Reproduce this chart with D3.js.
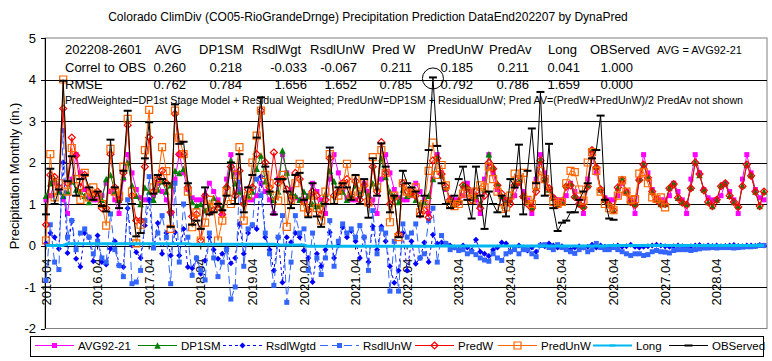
<!DOCTYPE html>
<html><head><meta charset="utf-8">
<script src="https://cdn.jsdelivr.net/npm/d3@7"></script>
<style>
html,body{margin:0;padding:0;background:#fff;}
svg{display:block;font-family:"Liberation Sans",Arial,sans-serif;}
</style></head><body>
<svg id="chart" width="772" height="361"></svg>
<script>
const title = "Colorado ClimDiv (CO05-RioGrandeDrnge) Precipitation Prediction DataEnd202207 by DynaPred";
const yLabel = "Precipitation Monthly (in.)";
const tickLabels = ["2015.04","2016.04","2017.04","2018.04","2019.04","2020.04","2021.04","2022.04","2023.04","2024.04","2025.04","2026.04","2027.04","2028.04"];
const yTicks = [5,4,3,2,1,0,-1,-2];
const gridValues = [4,3,2,1,-1];

const headerCols = ["202208-2601","AVG","DP1SM","RsdlWgt","RsdlUnW","Pred W","PredUnW","PredAv","Long","OBServed"];
const correl = ["Correl to OBS","0.260","0.218","-0.033","-0.067","0.211","0.185","0.211","0.041","1.000"];
const rmse = ["RMSE","0.762","0.784","1.656","1.652","0.785","0.792","0.786","1.659","0.000"];
const note = "PredWeighted=DP1st Stage Model + Residual Weighted; PredUnW=DP1SM + ResidualUnW; Pred AV=(PredW+PredUnW)/2 PredAv not shown";
const avgNote = "AVG = AVG92-21";

const avg = [
1.1,1.2,1.5,1.3,1.1,0.77,1.6,2.19,1.75,1.35,1.15,1.1,
1.1,1.2,1.5,1.3,1.1,0.77,1.6,2.19,1.75,1.35,1.15,1.1,
1.1,1.2,1.5,1.3,1.1,0.77,1.6,2.19,1.75,1.35,1.15,1.1,
1.1,1.2,1.5,1.3,1.1,0.77,1.6,2.19,1.75,1.35,1.15,1.1,
1.1,1.2,1.5,1.3,1.1,0.77,1.6,2.19,1.75,1.35,1.15,1.1,
1.1,1.2,1.5,1.3,1.1,0.77,1.6,2.19,1.75,1.35,1.15,1.1,
1.1,1.2,1.5,1.3,1.1,0.77,1.6,2.19,1.75,1.35,1.15,1.1,
1.1,1.2,1.5,1.3,1.1,0.77,1.6,2.19,1.75,1.35,1.15,1.1,
1.1,1.2,1.5,1.3,1.1,0.77,1.6,2.19,1.75,1.35,1.15,1.1,
1.1,1.2,1.5,1.3,1.1,0.77,1.6,2.19,1.75,1.35,1.15,1.1,
1.1,1.2,1.5,1.3,1.1,0.77,1.6,2.19,1.75,1.35,1.15,1.1,
1.1,1.2,1.5,1.3,1.1,0.77,1.6,2.19,1.75,1.35,1.15,1.1,
1.1,1.2,1.5,1.3,1.1,0.77,1.6,2.19,1.75,1.35,1.15,1.1,
1.1,1.2,1.5,1.3,1.1,0.77,1.6,2.19,1.75,1.35,1.15,1.1];

const dp1sm = [
1.2,1.5,1.6,1.3,1.2,1.3,1.55,1.35,1.3,1.2,1.05,1.15,
1.25,1.1,1.6,1.7,1.3,1.1,1.65,2.0,1.45,1.2,1.0,1.4,
1.3,1.1,1.35,1.55,1.3,1.45,1.8,1.75,1.85,1.5,1.05,0.95,
1.0,0.85,0.95,1.15,1.0,0.9,1.45,2.05,1.5,1.3,1.05,1.2,
1.3,1.85,2.17,1.55,1.3,1.1,1.3,2.29,1.76,1.25,1.2,1.1,
1.3,1.2,1.0,0.95,1.0,1.25,1.8,1.55,1.3,1.3,1.1,1.2,
1.45,1.25,1.35,1.2,1.5,1.4,2.1,1.65,1.3,1.2,1.05,1.35,
1.2,1.25,1.1,1.0,1.05,1.2,1.6,2.1,1.7,1.4,1.1,1.0,
1.1,1.45,1.4,1.15,1.2,1.0,1.35,2.2,1.9,1.5,1.2,1.05,
1.1,1.5,1.55,1.2,1.05,0.92,1.4,2.05,1.6,1.35,1.15,1.0,
1.05,1.45,1.5,1.2,1.0,0.95,1.45,2.3,1.9,1.35,1.1,1.0,
0.85,1.4,1.6,1.3,1.05,1.0,1.6,1.95,1.65,1.3,1.1,1.0,
1.0,1.4,1.5,1.15,1.05,1.0,1.4,2.0,1.7,1.35,1.05,0.95,
1.1,1.45,1.5,1.2,1.05,0.95,1.45,1.95,1.7,1.3,0.95,1.3];

const rsdlWgtd = [
0.05,0.3,0.2,-0.08,2.0,-0.18,0.6,-0.32,-0.51,0.3,0.2,-0.38,
0.24,-0.4,-0.46,-0.08,0.1,-0.48,-0.52,0.9,0.0,-0.16,-0.3,0.48,
1.1,-0.04,0.54,-0.2,0.3,-0.24,0.32,-0.24,0.4,-0.52,-0.55,-0.3,
-0.68,-0.36,0.2,-0.1,-0.32,-0.2,-0.08,-0.43,-0.3,0.52,-0.2,0.3,
0.48,0.4,1.66,0.2,-0.1,-0.6,0.2,-0.89,0.2,0.08,0.3,0.2,
-0.12,-0.3,-0.88,-0.2,-0.5,-0.1,0.32,-0.3,0.0,0.44,0.2,0.35,
0.1,-0.3,0.2,-0.4,0.46,-0.1,0.46,0.1,-0.5,-0.9,-0.6,0.3,
-0.6,0.1,-0.44,-0.3,0.07,-0.4,0.26,0.05,0.07,0.05,0.0,-0.05,
-0.1,0.0,-0.05,-0.12,0.14,-0.15,-0.2,-0.25,-0.1,-0.05,0.07,0.05,
-0.15,-0.05,0.0,-0.05,-0.12,-0.05,-0.15,0.02,-0.02,0.05,0.0,-0.05,
-0.02,-0.08,-0.1,-0.05,-0.02,-0.05,-0.03,0.02,-0.05,0.0,-0.03,-0.05,
-0.02,0.0,-0.03,-0.02,0.02,-0.03,-0.05,-0.03,-0.02,0.0,0.02,0.0,
-0.02,-0.03,-0.02,0.0,-0.02,-0.03,-0.02,0.0,0.01,-0.02,0.0,-0.01,
0.0,-0.02,-0.01,0.0,0.01,-0.01,-0.02,0.0,0.0,-0.01,0.01,0.0];

const rsdlUnW = [
-0.84,0.5,-0.4,-0.58,2.77,0.2,0.6,-0.1,0.3,0.4,0.2,-0.2,
0.1,-0.3,-0.4,0.76,-0.1,-0.48,-0.75,1.1,-0.92,-0.88,-0.6,0.6,
1.66,-0.06,0.3,0.72,0.2,-0.92,1.5,-0.4,1.0,0.2,-0.72,-0.3,
-0.6,-0.83,0.3,-0.3,-0.75,-0.4,-0.1,-1.29,-1.0,1.53,-0.5,0.4,
0.5,1.6,1.2,0.3,-0.2,-0.96,0.2,0.72,-1.37,-0.4,0.72,0.3,
0.4,-0.6,0.3,-0.3,-0.7,-0.3,0.6,-0.5,0.1,0.52,0.3,0.4,
0.2,0.48,0.2,-0.6,0.84,-0.2,0.4,0.3,-1.1,0.1,-1.1,0.52,
0.2,0.3,0.52,-0.3,-0.2,0.6,0.9,-0.4,0.24,0.05,-0.1,-0.05,
-0.12,-0.1,-0.2,-0.15,-0.22,-0.3,-0.35,-0.38,-0.2,-0.3,-0.36,-0.2,
-0.15,-0.1,-0.2,-0.1,-0.1,-0.2,-0.27,0.0,0.02,-0.05,-0.1,0.02,
-0.05,-0.1,-0.15,-0.19,-0.1,-0.05,-0.15,-0.1,0.05,-0.05,-0.1,-0.1,
-0.05,-0.1,-0.15,-0.2,-0.24,-0.2,-0.2,-0.24,-0.22,-0.15,-0.12,-0.15,
-0.16,-0.18,-0.12,-0.1,-0.1,-0.1,-0.12,-0.1,-0.08,-0.06,-0.06,-0.05,
-0.06,-0.05,-0.05,-0.05,-0.06,-0.05,-0.04,-0.03,-0.03,-0.02,0.0,0.0];

const predW = [
0.5,1.7,1.65,1.4,3.3,1.5,2.6,2.17,1.4,1.7,1.3,1.2,
1.3,0.9,0.9,2.2,1.4,1.1,1.75,2.9,1.2,0.6,0.6,1.9,
2.6,1.3,1.6,1.8,1.5,0.8,3.17,2.2,2.2,1.4,0.7,0.75,
0.12,1.2,0.8,0.85,1.0,0.75,1.4,1.9,1.2,1.8,1.0,1.35,
1.4,2.2,3.25,2.0,1.4,2.24,1.5,1.6,1.35,1.1,1.75,1.6,
1.05,0.85,1.3,1.2,0.75,1.1,2.1,1.2,1.3,1.5,1.6,1.2,
1.55,1.1,1.45,1.0,1.9,1.3,2.49,1.75,1.0,1.15,0.28,1.5,
1.3,1.3,1.2,0.75,0.85,0.68,2.05,2.1,1.72,1.42,1.1,1.0,
1.05,1.45,1.38,1.1,1.3,0.9,1.2,2.0,1.85,1.45,1.25,1.08,
1.0,1.45,1.55,1.18,1.0,0.9,1.3,2.05,1.6,1.38,1.15,0.98,
1.05,1.42,1.45,1.17,1.0,0.92,1.42,2.3,1.88,1.35,1.1,0.98,
0.85,1.4,1.58,1.28,1.05,0.98,1.58,1.95,1.63,1.3,1.1,1.0,
1.0,1.38,1.48,1.15,1.03,0.98,1.38,2.0,1.72,1.33,1.05,0.95,
1.1,1.43,1.5,1.2,1.05,0.93,1.43,1.95,1.68,1.3,0.95,1.3];

const predUnW = [
0.12,2.2,1.16,1.5,4.0,1.3,2.35,1.6,1.1,1.75,1.16,1.4,
1.2,1.0,0.48,2.33,1.3,1.2,1.9,3.05,1.3,0.05,0.5,2.3,
3.27,1.4,1.6,2.37,1.79,0.4,3.25,2.6,2.2,1.3,0.44,0.8,
0.12,0.55,1.1,0.9,0.12,0.6,1.3,1.0,1.7,2.37,0.6,1.2,
2.0,2.65,3.25,1.7,1.5,1.2,1.08,1.7,0.45,1.1,1.5,1.97,
0.92,0.8,1.2,0.9,0.6,1.3,2.2,1.1,1.2,1.45,1.97,1.2,
1.6,1.3,1.5,1.04,2.13,1.4,2.3,1.75,0.56,1.2,0.2,1.5,
1.3,1.25,1.4,0.8,1.0,1.8,2.48,1.7,1.94,1.45,1.0,0.95,
1.0,1.25,1.3,1.1,1.3,1.45,1.4,1.9,1.6,1.3,0.88,0.92,
1.2,1.73,1.6,1.75,1.1,1.0,1.45,1.8,1.6,1.3,1.05,1.0,
1.05,1.5,1.8,1.77,1.35,1.08,2.0,2.25,1.8,1.3,1.0,0.9,
0.85,1.2,1.57,1.3,1.1,1.12,1.73,1.77,1.5,1.16,1.12,1.16,
0.92];

const longTerm = [
0,0,0,0,0,0.04,0.04,0.04,0.04,0.04,0.04,0.04,
0.04,0.04,0.04,0.04,0.04,0.04,0.04,0.04,0.04,0.04,0.04,0.04,
0.04,0.04,0.04,0.04,0.04,0.04,0.04,0.04,0.04,0.04,0.03,0.03,
0.03,0.03,0.03,0.03,0.03,0.03,0.03,0.03,0.03,0.03,0.03,0.03,
0.03,0.03,0.03,0.03,0.03,0.03,0.01,0.01,0.01,0.01,0.01,0.01,
0.01,-0.02,-0.02,-0.02,-0.02,-0.02,-0.02,-0.02,-0.02,-0.02,-0.02,-0.02,
-0.02,-0.02,-0.02,-0.02,-0.02,-0.02,-0.02,-0.02,-0.02,-0.02,-0.02,-0.02,
-0.02,-0.02,-0.02,-0.02,-0.02,-0.02,-0.02,-0.01,-0.01,-0.01,-0.01,-0.01,
-0.01,-0.01,-0.01,-0.01,-0.01,-0.01,-0.01,-0.01,-0.01,-0.01,-0.01,-0.01,
-0.01,-0.01,-0.01,-0.01,-0.01,-0.01,-0.01,-0.01,-0.01,-0.01,-0.01,-0.01,
-0.01,-0.01,-0.01,-0.01,-0.01,-0.01,-0.01,-0.01,-0.01,-0.01,-0.01,0,
0,0,0,0,0,0,0,0,0,0,0,0,
0,0,0,0,0,0,0,0,0,0,0,0,
0,0,0,0,0,0,0,0,0,0,0,0];

const observed = [
0.75,1.85,1.0,1.35,3.97,1.55,2.15,1.2,1.6,1.7,1.4,1.1,
1.3,0.95,0.82,2.55,1.4,0.9,1.8,3.25,1.0,0.22,0.3,2.1,
2.97,1.25,1.7,1.6,1.5,0.45,3.4,2.45,2.5,1.5,0.5,0.6,
0.4,1.4,0.75,0.8,1.0,0.85,1.2,2.0,1.0,2.2,0.8,1.4,
1.7,2.6,3.57,1.9,1.3,0.75,1.6,1.6,1.3,0.9,1.7,1.75,
1.1,0.68,1.5,0.7,0.45,1.0,2.36,1.0,1.4,1.5,1.4,1.1,
1.7,1.0,1.6,0.67,2.1,1.2,2.46,1.9,0.8,1.2,0.2,1.8,
1.5,1.4,1.3,0.7,1.2,2.3,4.05,2.4,1.5,1.0,0.9,1.2,
1.6,1.9,1.1,0.65,1.9,1.2,0.4,1.3,1.0,0.8,1.2,0.7,
1.6,1.4,2.43,0.75,1.8,2.82,1.5,3.7,1.2,2.45,0.9,0.35,
0.55,0.6,0.8,0.8,1.1,1.3,1.5,2.1,2.3,3.13,1.1,0.65,
0.62];

const circledIndex = 90;

const series = [
  {name:"AVG92-21", data:avg, color:"#FF00FF", width:1, dash:null, marker:"square", size:5, fill:"#FF00FF"},
  {name:"DP1SM", data:dp1sm, color:"#008000", width:1, dash:null, marker:"triangle", size:6.5, fill:"#008000"},
  {name:"RsdlWgtd", data:rsdlWgtd, color:"#0000FF", width:1, dash:"3,3", marker:"diamond", size:6, fill:"#0000FF"},
  {name:"RsdlUnW", data:rsdlUnW, color:"#3366FF", width:1, dash:"8,4", marker:"square", size:5, fill:"#3366FF"},
  {name:"PredW", data:predW, color:"#FF0000", width:1, dash:null, marker:"diamond", size:7, fill:"none"},
  {name:"PredUnW", data:predUnW, color:"#FF6600", width:1, dash:null, marker:"square", size:7, fill:"none"},
  {name:"Long", data:longTerm, color:"#00B8F0", width:3, dash:null, marker:"none", size:0, fill:"none"},
  {name:"OBServed", data:observed, color:"#000000", width:1, dash:null, marker:"dash", size:8, fill:"#000000"}
];

(function(){
const svg = d3.select("#chart");
const W = 772, H = 361;
const pL = 45, pR = 767, pT = 38, pB = 328.5;
const x = d3.scaleLinear().domain([0,167]).range([46,764]);
const y = d3.scaleLinear().domain([-2,5]).range([pB, pT]);

svg.append("rect").attr("width",W).attr("height",H).attr("fill","#fff");

svg.append("text").attr("x",368).attr("y",21).attr("text-anchor","middle")
  .attr("font-size",12).attr("fill","#000").text(title);

svg.append("text").attr("transform",`translate(19,176) rotate(-90)`)
  .attr("text-anchor","middle").attr("font-size",13).attr("fill","#000").text(yLabel);

svg.append("rect").attr("x",pL).attr("y",pT).attr("width",pR-pL).attr("height",pB-pT)
  .attr("fill","none").attr("stroke","#808080").attr("stroke-width",1);

svg.append("g").selectAll("line").data(gridValues).join("line")
  .attr("x1",pL).attr("x2",pR).attr("y1",d=>Math.round(y(d))+0.5).attr("y2",d=>Math.round(y(d))+0.5)
  .attr("stroke","#000").attr("stroke-width",1);

const yAxis = svg.append("g");
yAxis.append("line").attr("x1",pL+0.5).attr("x2",pL+0.5).attr("y1",pT).attr("y2",pB).attr("stroke","#000");
yAxis.selectAll("line.t").data(yTicks).join("line").attr("class","t")
  .attr("x1",pL-4).attr("x2",pL).attr("y1",d=>Math.round(y(d))+0.5).attr("y2",d=>Math.round(y(d))+0.5).attr("stroke","#000");
yAxis.selectAll("text").data(yTicks).join("text")
  .attr("x",36).attr("y",d=>y(d)).attr("dy","0.35em").attr("text-anchor","end")
  .attr("font-size",13).attr("fill","#000").text(d=>d);

const xAxis = svg.append("g");
xAxis.append("line").attr("x1",pL).attr("x2",pR).attr("y1",Math.round(y(0))+0.5).attr("y2",Math.round(y(0))+0.5).attr("stroke","#000");
xAxis.selectAll("line.t").data(tickLabels).join("line").attr("class","t")
  .attr("x1",(d,i)=>x(i*12)).attr("x2",(d,i)=>x(i*12))
  .attr("y1",y(0)).attr("y2",y(0)+4).attr("stroke","#000");
xAxis.selectAll("text").data(tickLabels).join("text")
  .attr("transform",(d,i)=>`translate(${x(i*12)},${y(0)+13}) rotate(-90)`)
  .attr("text-anchor","end").attr("dy","0.35em").attr("font-size",13).attr("fill","#000").text(d=>d);

function markerPath(type, cx, cy, s){
  const h = s/2;
  if(type==="square") return `M${cx-h},${cy-h}h${s}v${s}h${-s}Z`;
  if(type==="diamond") return `M${cx},${cy-h}L${cx+h},${cy}L${cx},${cy+h}L${cx-h},${cy}Z`;
  if(type==="triangle") return `M${cx},${cy-h}L${cx+h},${cy+h}L${cx-h},${cy+h}Z`;
  if(type==="dash") return `M${cx-h},${cy-1}h${s}v2h${-s}Z`;
  return "";
}

const plot = svg.append("g");
series.forEach(s=>{
  const line = d3.line().x((d,i)=>x(i)).y(d=>y(d));
  plot.append("path").datum(s.data).attr("d",line).attr("fill","none")
    .attr("stroke",s.color).attr("stroke-width",s.width)
    .attr("stroke-dasharray",s.dash);
  if(s.marker!=="none"){
    plot.append("g").selectAll("path").data(s.data).join("path")
      .attr("d",(d,i)=>markerPath(s.marker,x(i),y(d),s.size))
      .attr("fill",s.fill).attr("stroke",s.fill==="none"?s.color:"none").attr("stroke-width",1.2);
  }
});

svg.append("circle").attr("cx",x(circledIndex)).attr("cy",y(observed[circledIndex])+1).attr("r",10.5)
  .attr("fill","none").attr("stroke","#000").attr("stroke-width",1);

const colX = [65,155,199,252,310,372,427,489,548,590];
const numEnd = [0,186,242,307,357,412,473,529,580,633];
const hdr = svg.append("g").attr("font-size",13).attr("fill","#000");
headerCols.forEach((t,i)=>hdr.append("text").attr("x",colX[i]).attr("y",54).text(t));
correl.forEach((t,i)=>hdr.append("text").attr("x",i===0?65:numEnd[i]).attr("y",72)
  .attr("text-anchor",i===0?"start":"end").text(t));
rmse.forEach((t,i)=>hdr.append("text").attr("x",i===0?65:numEnd[i]).attr("y",89)
  .attr("text-anchor",i===0?"start":"end").text(t));
svg.append("text").attr("x",657).attr("y",54).attr("font-size",11).attr("fill","#000").text(avgNote);
svg.append("text").attr("x",65).attr("y",104).attr("font-size",11).attr("fill","#000")
  .attr("textLength",678).attr("lengthAdjust","spacingAndGlyphs").text(note);

const legX = [35,138,223,320,415,498,593,669];
const lg = svg.append("g");
lg.append("rect").attr("x",30.5).attr("y",336.5).attr("width",733).attr("height",20)
  .attr("fill","#fff").attr("stroke","#000");
series.forEach((s,i)=>{
  const x0 = legX[i], ly = 345.5;
  lg.append("line").attr("x1",x0).attr("x2",x0+39).attr("y1",ly).attr("y2",ly)
    .attr("stroke",s.color).attr("stroke-width",s.width===3?2:1).attr("stroke-dasharray",s.dash);
  if(s.marker!=="none"){
    lg.append("path").attr("d",markerPath(s.marker,x0+19.5,ly,s.size))
      .attr("fill",s.fill).attr("stroke",s.fill==="none"?s.color:"none").attr("stroke-width",1.2);
  } else {
    lg.append("path").attr("d",markerPath("dash",x0+19.5,ly,6)).attr("fill",s.color);
  }
  lg.append("text").attr("x",x0+43).attr("y",349.5).attr("font-size",11.5).attr("fill","#000").text(s.name);
});
})();
</script>
</body></html>
